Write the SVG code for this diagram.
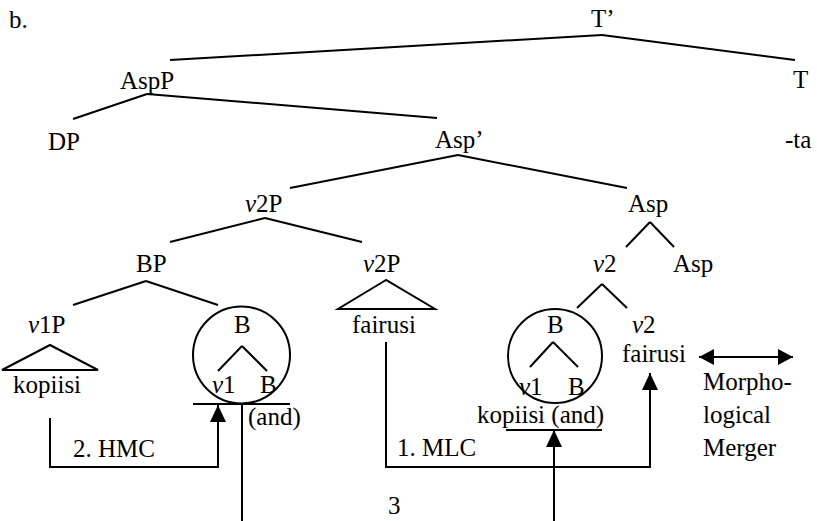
<svg xmlns="http://www.w3.org/2000/svg" width="817" height="521" viewBox="0 0 817 521">
<style>
text{font-family:"Liberation Serif","Times New Roman","DejaVu Serif",serif;font-size:25px;fill:#000}
.i{font-style:italic}
line,polyline,polygon.t,circle{stroke:#000;stroke-width:2;fill:none}
.ah{fill:#000;stroke:none}
</style>
<defs>
<marker id="arr" viewBox="0 0 17 16" refX="17" refY="8" markerWidth="17" markerHeight="16" markerUnits="userSpaceOnUse" orient="auto-start-reverse">
<polygon class="ah" points="0,0 17,8 0,16"/>
</marker>
<marker id="arrh" viewBox="0 0 15 16" refX="15" refY="8" markerWidth="15" markerHeight="16" markerUnits="userSpaceOnUse" orient="auto-start-reverse">
<polygon class="ah" points="0,0 15,8 0,16"/>
</marker>
</defs>
<rect width="817" height="521" fill="#fff"/>
<g font-family="Liberation Serif, Times New Roman, serif">
<text x="9" y="28">b.</text>
<g id="Tbar"><text x="591" y="27">T’</text></g>
<g id="AspP"><text x="120" y="89">AspP</text></g>
<g id="T"><text x="793" y="88">T</text></g>
<g id="DP"><text x="48" y="150">DP</text></g>
<g id="Aspbar"><text x="435" y="148">Asp’</text></g>
<g id="ta"><text x="785" y="148">-ta</text></g>
<g id="v2P-top"><text x="245" y="212"><tspan class="i">v</tspan>2P</text></g>
<g id="Asp-top"><text x="628" y="212">Asp</text></g>
<g id="BP"><text x="136" y="272">BP</text></g>
<g id="v2P-low"><text x="363" y="272"><tspan class="i">v</tspan>2P</text>
<polygon class="t" points="386,280 338,309 435,309"/>
<text x="352" y="333">fairusi</text></g>
<g id="v2-mid"><text x="593" y="272"><tspan class="i">v</tspan>2</text></g>
<g id="Asp-low"><text x="673" y="272">Asp</text></g>
<g id="v1P"><text x="28" y="333"><tspan class="i">v</tspan>1P</text>
<polygon class="t" points="50,345 2,370 98,370"/>
<text x="13" y="393">kopiisi</text></g>
<g id="B-left"><circle cx="241.5" cy="355" r="48.5"/>
<text x="234" y="333">B</text>
<line x1="242" y1="346" x2="218" y2="371"/><line x1="242" y1="346" x2="267" y2="371"/>
<text x="212" y="393"><tspan class="i">v</tspan>1</text><text x="260" y="393">B</text>
<text x="248" y="425">(and)</text></g>
<g id="B-right"><circle cx="555" cy="356" r="47"/>
<text x="547" y="333">B</text>
<line x1="553" y1="342" x2="530" y2="367"/><line x1="553" y1="342" x2="578" y2="367"/>
<text x="519" y="395"><tspan class="i">v</tspan>1</text><text x="568" y="395">B</text>
<text x="477" y="423">kopiisi (and)</text>
<line x1="506" y1="430" x2="602" y2="430"/></g>
<g id="v2-right"><text x="632" y="333"><tspan class="i">v</tspan>2</text>
<text x="622" y="362">fairusi</text></g>
<g id="merger"><text x="703" y="390">Morpho-</text><text x="703" y="423">logical</text><text x="703" y="456">Merger</text></g>
<g id="labels"><text x="73" y="457">2. HMC</text><text x="397" y="456">1. MLC</text><text x="388" y="514">3</text></g>
</g>
<g id="connectors">
<line x1="602" y1="35" x2="170" y2="60"/><line x1="602" y1="35" x2="795" y2="60"/>
<line x1="147" y1="94" x2="73" y2="119"/><line x1="147" y1="94" x2="437" y2="118"/>
<line x1="458" y1="155" x2="290" y2="188"/><line x1="458" y1="155" x2="627" y2="188"/>
<line x1="265" y1="218" x2="170" y2="242"/><line x1="265" y1="218" x2="362" y2="242"/>
<line x1="650" y1="222" x2="626" y2="247"/><line x1="650" y1="222" x2="674" y2="247"/>
<line x1="146" y1="281" x2="73" y2="305"/><line x1="146" y1="281" x2="218" y2="305"/>
<line x1="602" y1="284" x2="577" y2="308"/><line x1="602" y1="284" x2="627" y2="308"/>
<line x1="193" y1="404" x2="290" y2="404"/>
<line x1="242" y1="404" x2="242" y2="521"/>
<polyline points="50,418 50,467 218,467 218,405" marker-end="url(#arr)"/>
<polyline points="386,342 386,467 650,467 650,373" marker-end="url(#arr)"/>
<line x1="554" y1="521" x2="554" y2="430" marker-end="url(#arr)"/>
<line x1="699" y1="357" x2="793" y2="357" marker-start="url(#arrh)" marker-end="url(#arrh)"/>
</g>
</svg>
